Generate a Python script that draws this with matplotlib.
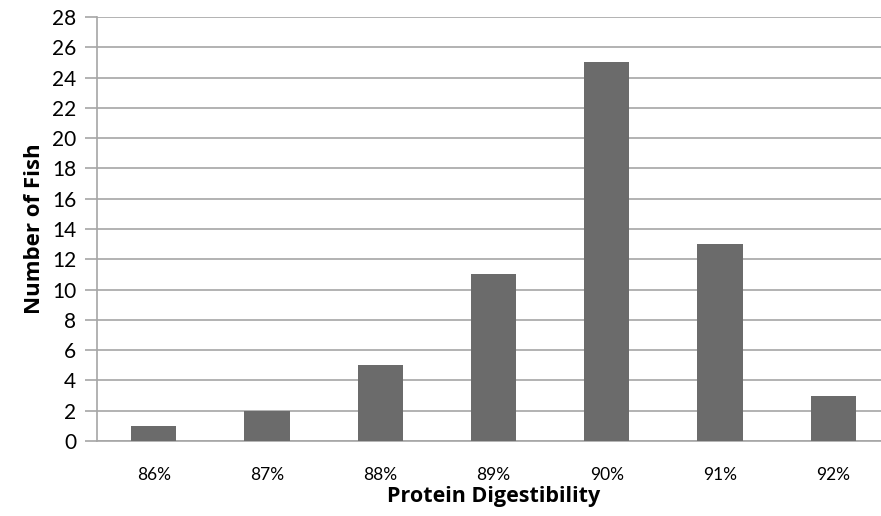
import matplotlib.pyplot as plt

categories = ['86%', '87%', '88%', '89%', '90%', '91%', '92%']
fish_counts = [1, 2, 5, 11, 25, 13, 3]
y_ticks = list(range(0, 29, 2))

plt.rcParams['font.family'] = ['Lato', 'DejaVu Sans']

fig = plt.figure(figsize=(8.81, 5.16), dpi=100)
ax = fig.add_axes([97 / 881, 75 / 516, 793 / 881, 424 / 516])

x = range(len(categories))
ax.bar(x, fish_counts, width=0.4, color='#6b6b6b', zorder=3)

ax.set_xlim(-0.5, len(categories) - 0.5)
ax.set_ylim(0, 28)
ax.set_yticks(y_ticks)
ax.set_yticklabels([str(t) for t in y_ticks], fontsize=15)
ax.set_xticks(list(x))
ax.set_xticklabels(categories, fontsize=12.5)

ax.yaxis.grid(True, color='#a6a6a6', linewidth=1.2, zorder=0)
ax.set_axisbelow(True)

for side in ['top', 'right']:
    ax.spines[side].set_visible(False)
ax.spines['left'].set_color('#a6a6a6')
ax.spines['bottom'].set_color('#a6a6a6')
ax.spines['left'].set_linewidth(1.2)
ax.spines['bottom'].set_linewidth(1.2)

ax.tick_params(axis='y', length=9, color='#a6a6a6', width=1.2, pad=6)
ax.tick_params(axis='x', length=0, pad=19)

label_font = dict(family=['Open Sans', 'DejaVu Sans'], fontweight='bold')
ax.set_xlabel('Protein Digestibility', fontsize=15.5, labelpad=2, **label_font)
ax.set_ylabel('Number of Fish', fontsize=16, labelpad=5, **label_font)

fig.savefig('out.png', dpi=100)
